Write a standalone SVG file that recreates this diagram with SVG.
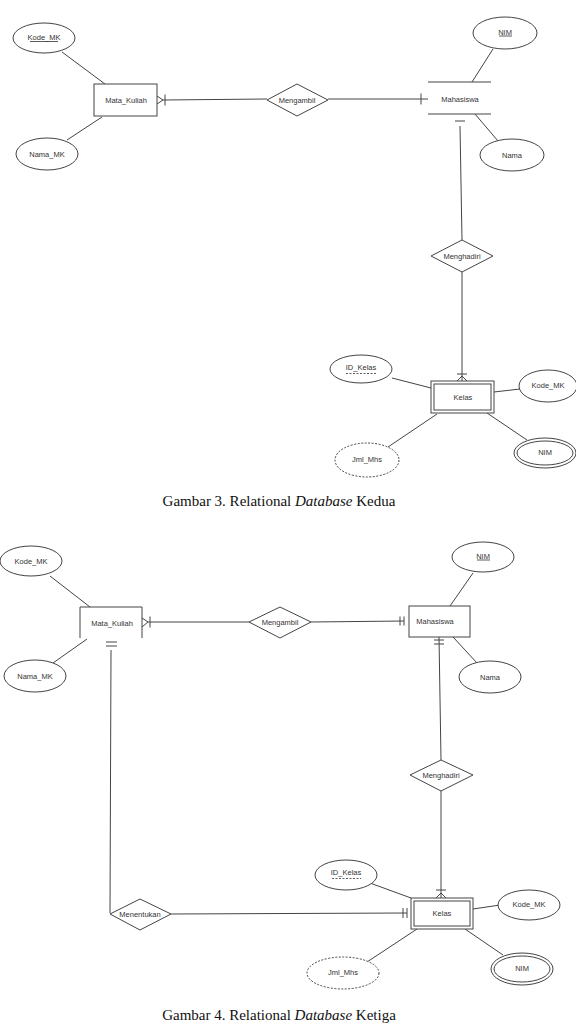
<svg xmlns="http://www.w3.org/2000/svg" width="576" height="1025" viewBox="0 0 576 1025">
<style>
.bg{fill:#fff}
.sh{fill:#fff;stroke:#444;stroke-width:1}
.ln{fill:none;stroke:#444;stroke-width:1}
.dash{stroke-dasharray:2,1.5}
.t{font-family:"Liberation Sans",Arial,sans-serif;font-size:7.5px;fill:#333;text-anchor:middle;dominant-baseline:central}
.cap{font-family:"Liberation Serif","Times New Roman",serif;font-size:15px;fill:#111;text-anchor:middle}
.ul{stroke:#333;stroke-width:0.8}
</style>
<rect class="bg" width="576" height="1025"/>

<!-- ===== Diagram 1 connectors ===== -->
<g id="connectors1">
<line class="ln" x1="62" y1="52" x2="105" y2="84"/>
<line class="ln" x1="67" y1="140" x2="102" y2="117"/>
<line class="ln" x1="163" y1="100" x2="267" y2="99"/>
<path class="ln" d="M157,96 L163,100 L157,104"/>
<line class="ln" x1="165" y1="94.5" x2="165" y2="105.5"/>
<line class="ln" x1="328" y1="99" x2="428" y2="99"/>
<line class="ln" x1="421" y1="93.5" x2="421" y2="104.5"/>
<line class="ln" x1="493" y1="49" x2="472" y2="82"/>
<line class="ln" x1="475" y1="114" x2="498" y2="141"/>
<line class="ln" x1="455" y1="121" x2="465" y2="121"/>
<line class="ln" x1="460" y1="126" x2="462" y2="240"/>
<line class="ln" x1="462" y1="272" x2="462" y2="381"/>
<line class="ln" x1="457" y1="374" x2="467" y2="374"/>
<path class="ln" d="M457,381 L462,376 L467,381"/>
<line class="ln" x1="392" y1="378" x2="431" y2="388"/>
<line class="ln" x1="494" y1="392" x2="520" y2="389"/>
<line class="ln" x1="487" y1="413" x2="527" y2="440"/>
<line class="ln" x1="437" y1="414" x2="388" y2="447"/>
</g>

<!-- ===== Diagram 1 nodes ===== -->
<g id="d1-kode-mk">
<ellipse class="sh" cx="44" cy="38" rx="31" ry="15"/>
<text class="t" x="44" y="37">Kode_MK</text>
<line class="ul" x1="30" y1="41.5" x2="58" y2="41.5"/>
</g>
<g id="d1-nama-mk">
<ellipse class="sh" cx="47" cy="154" rx="31" ry="16"/>
<text class="t" x="47" y="154">Nama_MK</text>
</g>
<g id="d1-mata-kuliah">
<rect class="sh" x="94" y="84" width="63" height="32"/>
<text class="t" x="126" y="100">Mata_Kuliah</text>
</g>
<g id="d1-mengambil">
<polygon class="sh" points="267,100 297,84 328,100 297,116"/>
<text class="t" x="297" y="100">Mengambil</text>
</g>
<g id="d1-mahasiswa">
<line class="ln" x1="428" y1="82" x2="491" y2="82"/>
<line class="ln" x1="428" y1="114" x2="491" y2="114"/>
<text class="t" x="460" y="99">Mahasiswa</text>
</g>
<g id="d1-nim">
<ellipse class="sh" cx="505" cy="33" rx="32" ry="16"/>
<text class="t" x="505" y="32">NIM</text>
<line class="ul" x1="499" y1="36" x2="512" y2="36"/>
</g>
<g id="d1-nama">
<ellipse class="sh" cx="512" cy="155" rx="32" ry="16"/>
<text class="t" x="512" y="155">Nama</text>
</g>
<g id="d1-menghadiri">
<polygon class="sh" points="431,256 462,240 493,256 462,272"/>
<text class="t" x="462" y="256">Menghadiri</text>
</g>
<g id="d1-kelas">
<rect class="sh" x="431" y="381" width="63" height="32"/>
<rect class="sh" x="434" y="384" width="57" height="26"/>
<text class="t" x="463" y="397">Kelas</text>
</g>
<g id="d1-id-kelas">
<ellipse class="sh" cx="361" cy="369" rx="31" ry="14"/>
<text class="t" x="361" y="367">ID_Kelas</text>
<line class="ul dash" x1="346" y1="373.5" x2="376" y2="373.5"/>
</g>
<g id="d1-kode-mk2">
<ellipse class="sh" cx="548" cy="386" rx="29" ry="16"/>
<text class="t" x="548" y="385">Kode_MK</text>
</g>
<g id="d1-nim2">
<ellipse class="sh" cx="545" cy="453" rx="31" ry="15"/>
<ellipse class="sh" cx="545" cy="453" rx="28" ry="12"/>
<text class="t" x="545" y="452">NIM</text>
</g>
<g id="d1-jml-mhs">
<ellipse class="sh dash" cx="367" cy="460" rx="32" ry="17"/>
<text class="t" x="367" y="459">Jml_Mhs</text>
</g>

<text class="cap" x="279" y="506">Gambar 3. Relational <tspan font-style="italic">Database</tspan> Kedua</text>

<!-- ===== Diagram 2 connectors ===== -->
<g id="connectors2">
<line class="ln" x1="50" y1="576" x2="90" y2="607"/>
<line class="ln" x1="53" y1="663" x2="87" y2="639"/>
<line class="ln" x1="148" y1="622" x2="249" y2="622"/>
<path class="ln" d="M142,618 L148,622 L142,627"/>
<line class="ln" x1="150" y1="616.5" x2="150" y2="627.5"/>
<line class="ln" x1="106" y1="642" x2="117" y2="642"/>
<line class="ln" x1="106" y1="646" x2="117" y2="646"/>
<line class="ln" x1="111" y1="650" x2="110" y2="913"/>
<line class="ln" x1="311" y1="622" x2="404" y2="621"/>
<line class="ln" x1="400" y1="616.5" x2="400" y2="625.5"/>
<line class="ln" x1="404" y1="616.5" x2="404" y2="625.5"/>
<line class="ln" x1="473" y1="573" x2="450" y2="606"/>
<line class="ln" x1="453" y1="637" x2="477" y2="663"/>
<line class="ln" x1="434" y1="640" x2="444" y2="640"/>
<line class="ln" x1="434" y1="644" x2="444" y2="644"/>
<line class="ln" x1="439" y1="637" x2="441" y2="760"/>
<line class="ln" x1="441" y1="791" x2="441" y2="898"/>
<line class="ln" x1="436" y1="890" x2="446" y2="890"/>
<path class="ln" d="M436,898 L441,893 L446,898"/>
<line class="ln" x1="171" y1="914" x2="407" y2="913"/>
<line class="ln" x1="403" y1="908" x2="403" y2="918"/>
<line class="ln" x1="407" y1="908" x2="407" y2="918"/>
<line class="ln" x1="370" y1="883" x2="411" y2="898"/>
<line class="ln" x1="473" y1="909" x2="500" y2="905"/>
<line class="ln" x1="465" y1="929" x2="503" y2="955"/>
<line class="ln" x1="417" y1="929" x2="367" y2="962"/>
</g>

<!-- ===== Diagram 2 nodes ===== -->
<g id="d2-kode-mk">
<ellipse class="sh" cx="31" cy="561" rx="31" ry="15"/>
<text class="t" x="31" y="561">Kode_MK</text>
</g>
<g id="d2-nama-mk">
<ellipse class="sh" cx="35" cy="676" rx="31" ry="16"/>
<text class="t" x="35" y="676">Nama_MK</text>
</g>
<g id="d2-mata-kuliah">
<path class="ln" d="M80,638 L80,607 L142,607 L142,638"/>
<text class="t" x="112" y="623">Mata_Kuliah</text>
</g>
<g id="d2-mengambil">
<polygon class="sh" points="249,622 280,607 311,622 280,638"/>
<text class="t" x="280" y="622">Mengambil</text>
</g>
<g id="d2-mahasiswa">
<rect class="sh" x="409" y="606" width="61" height="31"/>
<text class="t" x="435" y="621">Mahasiswa</text>
</g>
<g id="d2-nim">
<ellipse class="sh" cx="483" cy="557" rx="31" ry="15"/>
<text class="t" x="483" y="556">NIM</text>
<line class="ul" x1="477" y1="560" x2="490" y2="560"/>
</g>
<g id="d2-nama">
<ellipse class="sh" cx="490" cy="677" rx="31" ry="16"/>
<text class="t" x="490" y="677">Nama</text>
</g>
<g id="d2-menghadiri">
<polygon class="sh" points="410,775 441,760 473,775 441,791"/>
<text class="t" x="441" y="775">Menghadiri</text>
</g>
<g id="d2-menentukan">
<polygon class="sh" points="110,914 140,899 171,914 140,930"/>
<text class="t" x="140" y="914">Menentukan</text>
</g>
<g id="d2-kelas">
<rect class="sh" x="411" y="898" width="62" height="31"/>
<rect class="sh" x="414" y="901" width="56" height="25"/>
<text class="t" x="442" y="913">Kelas</text>
</g>
<g id="d2-id-kelas">
<ellipse class="sh" cx="346" cy="875" rx="31" ry="15"/>
<text class="t" x="346" y="872">ID_Kelas</text>
<line class="ul dash" x1="332" y1="878.5" x2="361" y2="878.5"/>
</g>
<g id="d2-kode-mk2">
<ellipse class="sh" cx="529" cy="905" rx="31" ry="15"/>
<text class="t" x="529" y="904">Kode_MK</text>
</g>
<g id="d2-nim2">
<ellipse class="sh" cx="522" cy="969" rx="31" ry="16"/>
<ellipse class="sh" cx="522" cy="969" rx="28" ry="13"/>
<text class="t" x="522" y="968">NIM</text>
</g>
<g id="d2-jml-mhs">
<ellipse class="sh dash" cx="343" cy="973" rx="36" ry="16"/>
<text class="t" x="343" y="972">Jml_Mhs</text>
</g>

<text class="cap" x="279" y="1020">Gambar 4. Relational <tspan font-style="italic">Database</tspan> Ketiga</text>
</svg>
